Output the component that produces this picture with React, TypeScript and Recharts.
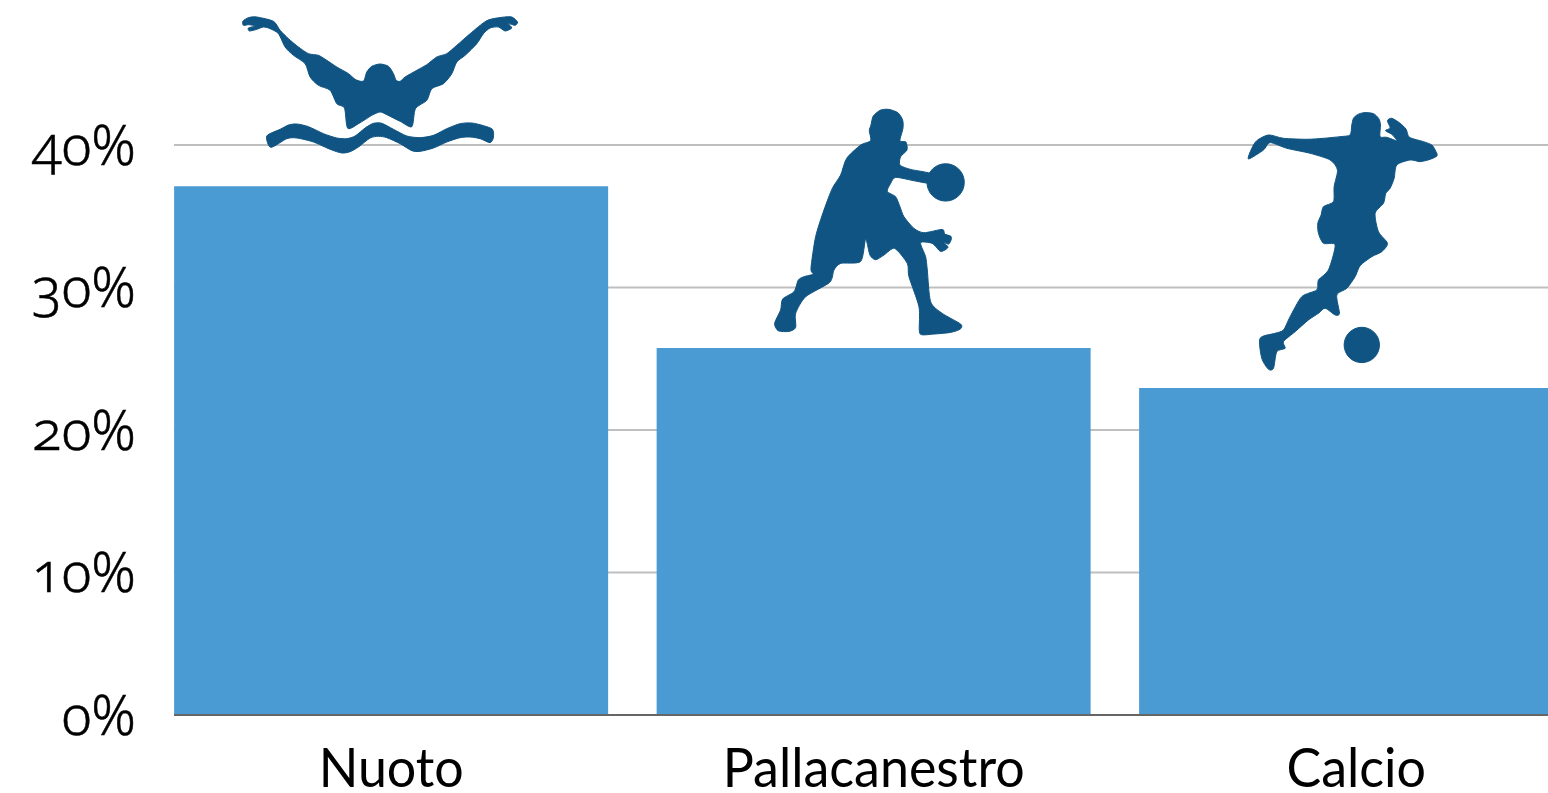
import React from 'react';
import { BarChart, Bar, XAxis, YAxis, CartesianGrid, LabelList } from 'recharts';

const sports = ['Nuoto', 'Pallacanestro', 'Calcio'];
const shares = [37.1, 25.75, 22.95];
const percentTicks = [0, 10, 20, 30, 40];

const data = sports.map((name, i) => ({ name, share: shares[i] }));

type Pt = [number, number];

// Closed Catmull-Rom spline through a traced outline
const outline = (pts: Pt[]) => {
  const n = pts.length;
  let d = `M${pts[0][0]} ${pts[0][1]}`;
  for (let i = 0; i < n; i++) {
    const p0 = pts[(i - 1 + n) % n];
    const p1 = pts[i];
    const p2 = pts[(i + 1) % n];
    const p3 = pts[(i + 2) % n];
    const c1x = p1[0] + (p2[0] - p0[0]) / 8;
    const c1y = p1[1] + (p2[1] - p0[1]) / 8;
    const c2x = p2[0] - (p3[0] - p1[0]) / 8;
    const c2y = p2[1] - (p3[1] - p1[1]) / 8;
    d += ` C${c1x} ${c1y} ${c2x} ${c2y} ${p2[0]} ${p2[1]}`;
  }
  return d + ' Z';
};

const swimmerBody: Pt[] = [
  [38, 48], [55, 37], [80, 35], [130, 48], [150, 75], [175, 100], [205, 125], [235, 145], [265, 150], [290, 165],
  [320, 185], [355, 205], [375, 222], [392, 228], [402, 225], [410, 200], [425, 183], [450, 176], [475, 183],
  [490, 205], [498, 225], [510, 228], [525, 215], [560, 195], [590, 178], [620, 155], [650, 145], [680, 120],
  [720, 85], [770, 46], [815, 36], [845, 35], [862, 50], [855, 60], [835, 55], [845, 68], [825, 77], [805, 65],
  [780, 68], [760, 85], [740, 115], [705, 150], [680, 170], [665, 205], [640, 235], [605, 250], [590, 285],
  [556, 310], [545, 364], [510, 348], [470, 328], [450, 320], [425, 330], [390, 352], [353, 369], [343, 308],
  [320, 295], [300, 255], [265, 240], [240, 215], [225, 175], [190, 150], [165, 125], [145, 85], [120, 70],
  [100, 65], [80, 72], [58, 77], [55, 68], [75, 62], [55, 58], [40, 60],
];

const swimmerWave: Pt[] = [
  [110, 392], [150, 372], [175, 359], [200, 356], [235, 364], [280, 385], [320, 398], [350, 400], [375, 392],
  [405, 368], [430, 354], [455, 354], [490, 372], [530, 392], [570, 397], [610, 390], [650, 370], [690, 355],
  [725, 353], [760, 361], [787, 372], [790, 396], [780, 412], [750, 400], [720, 395], [690, 397], [650, 410],
  [610, 428], [570, 438], [545, 436], [510, 415], [470, 397], [445, 393], [420, 398], [385, 425], [360, 439],
  [335, 443], [300, 432], [250, 410], [200, 398], [170, 400], [122, 426],
];

const dribbler: Pt[] = [
  [331, 75], [338, 48], [360, 30], [385, 28], [412, 38], [426, 60], [427, 85], [418, 122], [436, 126], [439, 150],
  [420, 170], [418, 195], [450, 208], [515, 222], [515, 250], [460, 242], [405, 232], [390, 250], [380, 274],
  [405, 290], [418, 320], [430, 350], [460, 385], [490, 398], [545, 388], [552, 402], [570, 408], [572, 418],
  [564, 432], [550, 427], [562, 442], [540, 454], [515, 430], [480, 428], [495, 470], [500, 510], [510, 605],
  [545, 640], [600, 672], [599, 687], [570, 697], [520, 702], [483, 704], [476, 690], [475, 620], [445, 530],
  [440, 490], [402, 445], [370, 465], [345, 479], [328, 465], [315, 418], [300, 484], [240, 490], [220, 510],
  [207, 547], [135, 590], [105, 640], [105, 682], [85, 694], [53, 692], [42, 670], [60, 630], [66, 597], [100, 575],
  [113, 540], [130, 530], [157, 522], [151, 505], [165, 410], [190, 330], [215, 265], [240, 225], [258, 175],
  [300, 135], [330, 122], [326, 92],
];

const kicker: Pt[] = [
  [335, 75], [340, 55], [352, 44], [372, 38], [400, 41], [416, 56], [421, 75], [420, 110], [440, 112], [470, 122],
  [455, 103], [436, 92], [450, 84], [442, 62], [455, 55], [480, 70], [498, 88], [508, 112], [550, 125], [575, 135],
  [585, 150], [591, 167], [570, 178], [540, 185], [510, 180], [470, 195], [462, 235], [450, 265], [437, 280],
  [430, 310], [405, 340], [415, 395], [442, 430], [425, 455], [395, 470], [360, 497], [345, 530], [320, 565],
  [290, 585], [298, 640], [285, 645], [255, 625], [235, 640], [205, 660], [165, 695], [130, 725], [135, 745],
  [110, 755], [100, 805], [85, 808], [65, 775], [60, 715], [105, 700], [130, 690], [150, 650], [185, 590],
  [230, 570], [235, 540], [265, 510], [285, 435], [250, 430], [235, 400], [233, 370], [243, 345], [250, 320],
  [280, 305], [282, 260], [292, 210], [270, 180], [210, 160], [140, 145], [90, 128], [70, 150], [25, 177],
  [35, 145], [50, 122], [85, 105], [130, 115], [200, 118], [250, 115], [300, 110], [330, 105],
];

// Offset of each silhouette from the top-left corner of its bar
const glyphOffsets: Pt[] = [[56, -181], [104, -248], [101, -288]];
const glyphColor = '#0f5482';

const Glyph = ({ x, y, index }: any) => (
  <g
    transform={`translate(${x + glyphOffsets[index][0]} ${y + glyphOffsets[index][1]}) scale(${1 / 3})`}
    fill={glyphColor}
    stroke={glyphColor}
    strokeWidth={3}
    strokeLinejoin="round"
  >
    {index === 0 && (
      <>
        <path d={outline(swimmerBody)} />
        <path d={outline(swimmerWave)} />
      </>
    )}
    {index === 1 && (
      <>
        <path d={outline(dribbler)} />
        <circle cx={555} cy={247} r={56} />
      </>
    )}
    {index === 2 && (
      <>
        <path d={outline(kicker)} />
        <circle cx={365} cy={735} r={53} />
      </>
    )}
  </g>
);

// Category labels, squeezed a little narrower than the font's natural width
const SportTick = ({ x, y, payload }: any) => (
  <text
    transform={`translate(${x} ${y + 72}) scale(0.945 1)`}
    textAnchor="middle"
    fontFamily="Lato"
    fontSize={55}
    fill="#000"
  >
    {payload.value}
  </text>
);

export default function App() {
  return (
    <div style={{ position: 'absolute', left: 0, top: 0, width: 1548, height: 793, overflow: 'hidden', background: '#fff' }}>
      <BarChart
        width={1548}
        height={793}
        data={data}
        barCategoryGap="5%"
        margin={{ top: 145, right: 0, bottom: 0, left: 0 }}
      >
        <CartesianGrid horizontal vertical={false} stroke="#bfbfbf" strokeWidth={2} />
        <XAxis
          dataKey="name"
          height={78}
          interval={0}
          padding={{ left: -24, right: -49.5 }}
          axisLine={{ stroke: '#666666', strokeWidth: 2 }}
          tickLine={false}
          tickSize={0}
          tickMargin={0}
          tick={SportTick}
        />
        <YAxis
          width={174}
          domain={[0, 40]}
          ticks={percentTicks}
          tickFormatter={(v) => `${v}%`}
          axisLine={false}
          tickLine={false}
          tickSize={0}
          tickMargin={38}
          tick={{
            fontFamily: 'Noto Sans',
            fontSize: 55,
            fontWeight: 300,
            fill: '#000',
            stroke: '#000',
            strokeWidth: 0.5,
            style: { fontFeatureSettings: '"onum"' },
          }}
        />
        <Bar dataKey="share" fill="#4a9ad4" isAnimationActive={false}>
          <LabelList dataKey="share" content={Glyph} />
        </Bar>
      </BarChart>
    </div>
  );
}
